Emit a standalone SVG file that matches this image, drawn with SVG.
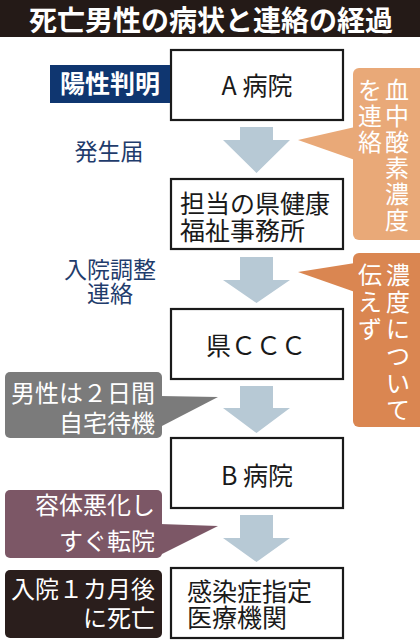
<svg xmlns="http://www.w3.org/2000/svg" width="420" height="640" viewBox="0 0 420 640">
<defs>
<style>
text{font-family:"Noto Sans CJK JP","Noto Sans",sans-serif}
.box{fill:#fff;stroke:#1a1a1a;stroke-width:2.2}
.bt{font-size:25px;fill:#1a1a1a}
.nv{font-size:23px;fill:#1f3c6c;text-anchor:middle}
.wt{font-size:24px;fill:#fff;text-anchor:end}
.arr{fill:#b7c9d5}
.vt{font-size:24px;fill:#fff;text-anchor:middle}
</style>
</defs>
<rect x="0" y="0" width="420" height="640" fill="#fff"/>
<g id="title">
<rect x="0" y="0" width="420" height="37" fill="#241a17"/>
<text x="211" y="31" font-size="28" font-weight="bold" fill="#fff" text-anchor="middle">死亡男性の病状と連絡の経過</text>
</g>
<g id="connectors">
<polygon class="arr" points="240,127 273,127 273,140 290,140 256.5,173 223,140 240,140"/>
<polygon class="arr" points="240,257 273,257 273,280 290,280 256.5,303 223,280 240,280"/>
<polygon class="arr" points="240,386 273,386 273,408 290,408 256.5,433 223,408 240,408"/>
<polygon class="arr" points="240,515 273,515 273,538 290,538 256.5,562 223,538 240,538"/>
</g>
<g id="nodeA">
<rect class="box" x="171" y="50" width="172" height="70"/>
<text class="bt" x="257" y="95" font-size="26" text-anchor="middle">A 病院</text>
</g>
<g id="nodeOffice">
<rect class="box" x="171" y="179" width="172" height="70"/>
<text class="bt"><tspan x="180" y="213">担当の県健康</tspan><tspan x="180" y="240">福祉事務所</tspan></text>
</g>
<g id="nodeCCC">
<rect class="box" x="171" y="309" width="172" height="70"/>
<text class="bt" x="256" y="355" text-anchor="middle">県ＣＣＣ</text>
</g>
<g id="nodeB">
<rect class="box" x="171" y="438" width="172" height="70"/>
<text class="bt" x="257" y="485" font-size="26" text-anchor="middle">B 病院</text>
</g>
<g id="nodeFinal">
<rect class="box" x="171" y="568" width="172" height="70"/>
<text class="bt" font-size="26"><tspan x="187" y="601">感染症指定</tspan><tspan x="187" y="627">医療機関</tspan></text>
</g>
<g id="labelPositive">
<rect x="50" y="65" width="120" height="38" fill="#0f3670"/>
<text x="110" y="93" font-size="25" font-weight="bold" fill="#fff" text-anchor="middle">陽性判明</text>
</g>
<g id="labelReport">
<text class="nv" x="109" y="160">発生届</text>
</g>
<g id="labelAdmit">
<text class="nv"><tspan x="110" y="278">入院調整</tspan><tspan x="110" y="302">連絡</tspan></text>
</g>
<g id="calloutWait">
<rect x="5" y="372" width="157" height="66" rx="5" fill="#7b7b7b"/>
<polygon points="160,396 218,397 160,427" fill="#7b7b7b"/>
<text class="wt"><tspan x="155" y="402">男性は２日間</tspan><tspan x="155" y="432">自宅待機</tspan></text>
</g>
<g id="calloutWorse">
<rect x="5" y="490" width="157" height="68" rx="5" fill="#7c5766"/>
<polygon points="160,524 218,526 160,555" fill="#7c5766"/>
<text class="wt"><tspan x="155" y="514">容体悪化し</tspan><tspan x="155" y="550">すぐ転院</tspan></text>
</g>
<g id="labelDeath">
<rect x="5" y="570" width="157" height="68" rx="5" fill="#2a1e1c"/>
<text class="wt"><tspan x="155" y="598">入院１カ月後</tspan><tspan x="155" y="627">に死亡</tspan></text>
</g>
<g id="calloutOxygen">
<rect x="353" y="68" width="75" height="172" rx="6" fill="#e9a978"/>
<polygon points="298,140 355,127 355,160" fill="#e9a978"/>
<text class="vt"><tspan x="397" y="99">血</tspan><tspan x="397" y="125">中</tspan><tspan x="397" y="151">酸</tspan><tspan x="397" y="177">素</tspan><tspan x="397" y="203">濃</tspan><tspan x="397" y="229">度</tspan><tspan x="370" y="99">を</tspan><tspan x="370" y="125">連</tspan><tspan x="370" y="151">絡</tspan></text>
</g>
<g id="calloutNotTold">
<rect x="353" y="253" width="75" height="174" rx="6" fill="#da8651"/>
<polygon points="298,272 355,263 355,292" fill="#da8651"/>
<text class="vt"><tspan x="398" y="284">濃</tspan><tspan x="398" y="311">度</tspan><tspan x="398" y="338">に</tspan><tspan x="398" y="365">つ</tspan><tspan x="398" y="392">い</tspan><tspan x="398" y="419">て</tspan><tspan x="370" y="284">伝</tspan><tspan x="370" y="311">え</tspan><tspan x="370" y="338">ず</tspan></text>
</g>
</svg>
